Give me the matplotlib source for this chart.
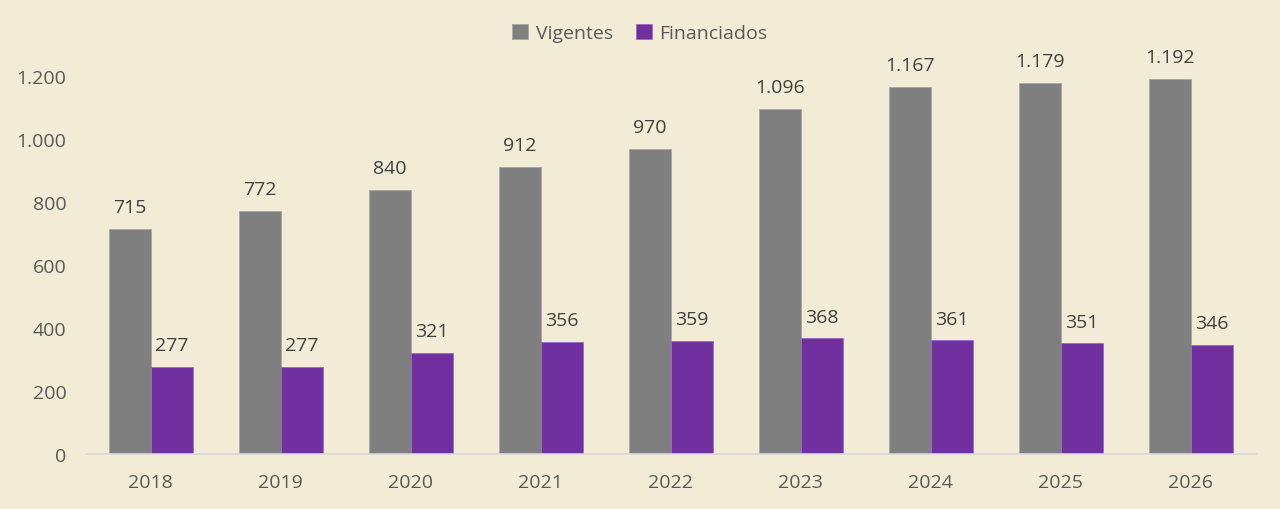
import matplotlib.pyplot as plt
import numpy as np

years = ["2018", "2019", "2020", "2021", "2022", "2023", "2024", "2025", "2026"]
vigentes = [715, 772, 840, 912, 970, 1096, 1167, 1179, 1192]
financiados = [277, 277, 321, 356, 359, 368, 361, 351, 346]

bg = "#F2ECD6"
gray = "#7F7F7F"
purple = "#7030A0"

plt.rcParams['font.family'] = ['Open Sans', 'DejaVu Sans']


def fmt(v):
    return f"{v:,}".replace(",", ".")


fig = plt.figure(figsize=(12.8, 5.1), dpi=100, facecolor=bg)
ax = fig.add_axes([0.067, 0.108, 0.914, 0.864], facecolor=bg)

x = np.arange(len(years))
w = 0.323
b1 = ax.bar(x - w / 2, vigentes, w, color=gray, edgecolor="#A6A6A6", linewidth=0.6, label="Vigentes")
b2 = ax.bar(x + w / 2, financiados, w, color=purple, edgecolor="#9A6BC0", linewidth=0.6, label="Financiados")

# etiquetas de valores
for bars, vals in ((b1, vigentes), (b2, financiados)):
    for r, v in zip(bars, vals):
        ax.text(r.get_x() + r.get_width() / 2, v + 40, fmt(v), ha="center", va="bottom",
                fontsize=14, color="#404040")

ax.set_xlim(-0.5, len(years) - 0.5)
ax.set_ylim(0, 1400)
ax.set_yticks(range(0, 1201, 200))
ax.set_yticklabels([fmt(v) for v in range(0, 1201, 200)])
ax.set_xticks(x)
ax.set_xticklabels(years)
ax.tick_params(axis="both", length=0, labelsize=14, colors="#595959")
ax.tick_params(axis="y", pad=14)
ax.tick_params(axis="x", pad=14)

for s in ("top", "right", "left"):
    ax.spines[s].set_visible(False)
ax.spines["bottom"].set_color("#D9D9D9")
ax.spines["bottom"].set_linewidth(1.2)

leg = fig.legend(handles=[b1, b2], loc="upper center", bbox_to_anchor=(0.5, 0.985), ncol=2,
                 frameon=False, fontsize=14, handlelength=0.8, handleheight=0.8,
                 handletextpad=0.4, columnspacing=1.2)
for t in leg.get_texts():
    t.set_color("#595959")

fig.savefig("out.png", dpi=100, facecolor=bg)
